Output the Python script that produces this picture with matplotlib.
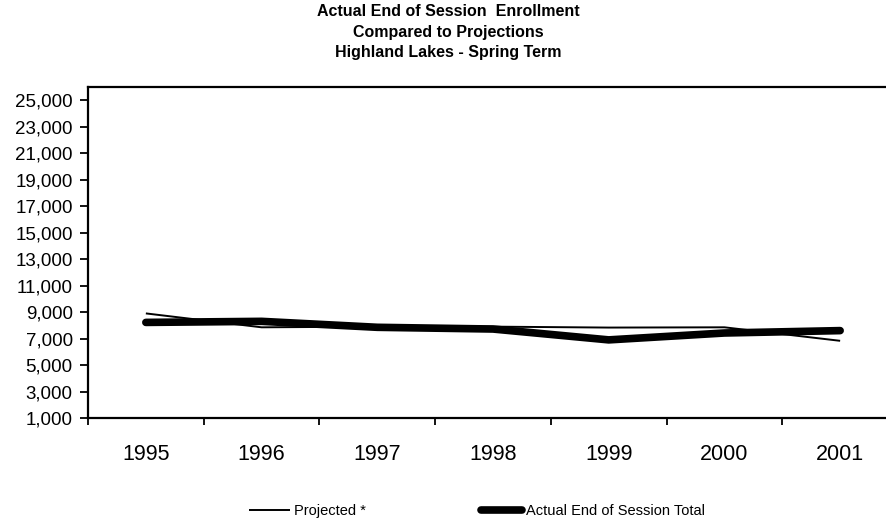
import matplotlib
matplotlib.use("Agg")
import matplotlib.pyplot as plt
from matplotlib.ticker import FixedLocator, FuncFormatter

years = ["1995", "1996", "1997", "1998", "1999", "2000", "2001"]
projected = [8900, 7850, 7900, 7900, 7830, 7850, 6830]
actual = [8220, 8300, 7850, 7720, 6900, 7420, 7600]
title_lines = ["Actual End of Session  Enrollment",
               "Compared to Projections",
               "Highland Lakes - Spring Term"]
y_ticks = list(range(1000, 26000, 2000))

plt.rcParams['font.family'] = ['Liberation Sans', 'DejaVu Sans']

W, H = 886, 523
fig = plt.figure(figsize=(W / 100, H / 100), dpi=100)
left, right, bottom, top = 88, 898, 418, 87
ax = fig.add_axes([left / W, 1 - bottom / H, (right - left) / W, (bottom - top) / H])

x = list(range(len(years)))
ax.plot(x, projected, color='black', lw=1.4, solid_capstyle='butt', label='Projected *', zorder=3)
ax.plot(x, actual, color='black', lw=5.5, solid_capstyle='round', solid_joinstyle='round',
        label='Actual End of Session Total', zorder=2)

ax.set_xlim(-0.5, len(years) - 0.5)
ax.set_ylim(1000, 26000)
ax.set_yticks(y_ticks)
ax.yaxis.set_major_formatter(FuncFormatter(lambda v, p: f"{int(v):,}"))
ax.tick_params(axis='y', direction='out', length=6, width=1.3, labelsize=13.5, pad=5)

ax.set_xticks(x)
ax.set_xticklabels(years)
ax.tick_params(axis='x', which='major', length=0, labelsize=15.5, pad=19)
ax.xaxis.set_minor_locator(FixedLocator([i - 0.5 for i in range(len(years) + 1)]))
ax.tick_params(axis='x', which='minor', direction='out', length=5, width=1.3)

for s in ['left', 'bottom', 'top']:
    ax.spines[s].set_linewidth(1.6)
ax.spines['right'].set_visible(False)

for i, t in enumerate(title_lines):
    fig.text(448 / W, 1 - (12 + 20 * i) / H, t, ha='center', va='center',
             fontsize=11.5, fontweight='bold')

fig.legend(loc='center', bbox_to_anchor=(477 / W, 1 - 511 / H), ncol=2, frameon=False,
           fontsize=10.5, handlelength=2.8, handletextpad=0.3, columnspacing=7.9)

fig.savefig("out.png", dpi=100)
